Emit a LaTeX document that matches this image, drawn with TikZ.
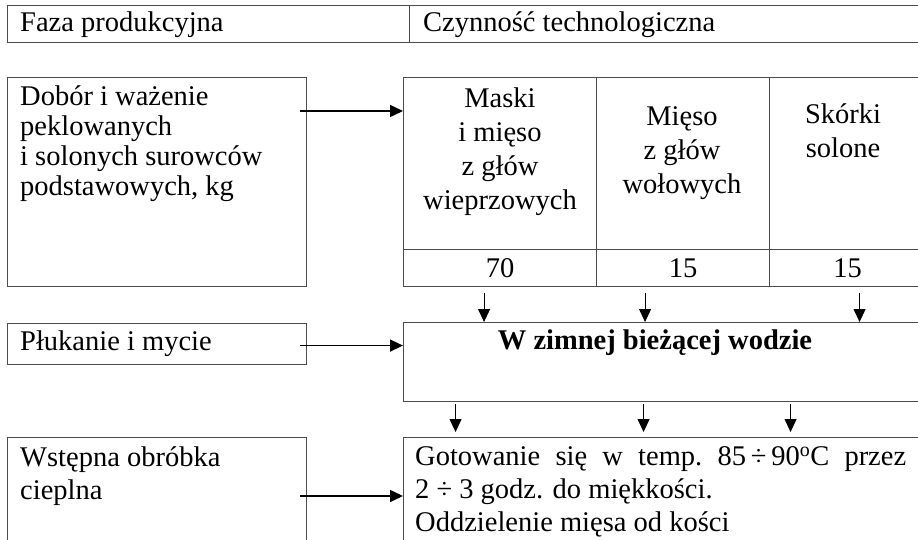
\documentclass[tikz,border=0pt]{standalone}
\usepackage{fontspec}
\setmainfont{Liberation Serif}
\usetikzlibrary{arrows.meta,positioning,calc}

\begin{document}
\begin{tikzpicture}[
    x=1pt, y=-1pt,
    box/.style={draw=black!70, line width=1.1pt, inner sep=0pt, anchor=north west, font=\fontsize{28.5}{30}\selectfont},
    txt/.style={inner sep=0pt, font=\fontsize{28.5}{30}\selectfont, align=left},
    cell/.style={inner sep=0pt, font=\fontsize{28.5}{34}\selectfont, align=center, anchor=north},
    conn/.style={-{Triangle[length=13pt,width=12pt]}, line width=1pt, draw=black},
    hconn/.style={conn, line width=1.6pt}
]
\useasboundingbox (0,0) rectangle (918,540);
\clip (0,0) rectangle (918,540);

% Header row
\node[box, minimum width=402pt, minimum height=37pt] (hfaza) at (7,5) {};
\node[box, minimum width=516pt, minimum height=37pt] (hczyn) at (409,5) {};
\node[txt, anchor=west] (hfaza-t) at (20,25) {Faza produkcyjna};
\node[txt, anchor=west] (hczyn-t) at (423,25) {Czynność technologiczna};

% Left column (production phases)
\node[box, minimum width=299pt, minimum height=209pt] (dobor) at (7,77) {};
\node[txt, anchor=north west] (dobor-t) at (20,85) {Dobór i ważenie\\peklowanych\\i solonych surowców\\podstawowych, kg};
\node[box, minimum width=299pt, minimum height=41pt] (plukanie) at (7,323) {};
\node[txt, anchor=west] (plukanie-t) at (20,344) {Płukanie i mycie};
\node[box, minimum width=299pt, minimum height=123pt] (wstepna) at (7,437) {};
\node[txt, anchor=north west, font=\fontsize{28.5}{33}\selectfont] (wstepna-t) at (20,446) {Wstępna obróbka\\cieplna};

% Raw material table
\node[box, minimum width=193pt, minimum height=172pt] (m1) at (403,77) {};
\node[box, minimum width=173pt, minimum height=172pt] (m2) at (596,77) {};
\node[box, minimum width=156pt, minimum height=172pt] (m3) at (769,77) {};
\node[cell] (m1-t) at (500,88)  {Maski\\i mięso\\z głów\\wieprzowych};
\node[cell] (m2-t) at (682,106) {Mięso\\z głów\\wołowych};
\node[cell] (m3-t) at (843,103) {Skórki\\solone};
\node[box, minimum width=193pt, minimum height=37pt] (n1) at (403,249) {70};
\node[box, minimum width=173pt, minimum height=37pt] (n2) at (596,249) {15};
\node[box, minimum width=156pt, minimum height=37pt] (n3) at (769,249) {15};

% Operations
\node[box, minimum width=522pt, minimum height=79pt] (woda) at (403,322) {};
\node[txt, font=\fontsize{28.5}{30}\selectfont\bfseries] (woda-t) at (655,343) {W zimnej bieżącej wodzie};
\node[box, minimum width=522pt, minimum height=123pt] (gotowanie) at (403,437) {};
\node[txt, anchor=north west, font=\fontsize{28.5}{33}\selectfont] (gotowanie-t) at (415,446) {\hbox to 491pt{Gotowanie\hfill się\hfill w\hfill temp.\hfill 85\,÷\,90\textsuperscript{o}C\hfill przez}\\2 ÷ 3 godz. do miękkości.\\Oddzielenie mięsa od kości};

% Horizontal arrows
\draw[hconn] ([xshift=-7pt,yshift=-34pt]dobor.north east) -- ([yshift=-34pt]m1.north west);
\draw[hconn] ([xshift=-7pt,yshift=-1.5pt]plukanie.east) -- ([yshift=-1.5pt]plukanie.east -| woda.west);
\draw[hconn] ([xshift=-7pt,yshift=-59pt]wstepna.north east) -- ([yshift=-59pt]gotowanie.north west);

% Down arrows
\draw[conn, shorten <=6pt] ([xshift=-16pt]n1.south) -- ([xshift=-16pt]n1.south |- woda.north);
\draw[conn, shorten <=6pt] ([xshift=-38pt]n2.south) -- ([xshift=-38pt]n2.south |- woda.north);
\draw[conn, shorten <=6pt] ([xshift=12pt]n3.south) -- ([xshift=12pt]n3.south |- woda.north);
\draw[conn, shorten <=2pt, shorten >=5pt] ([xshift=-209pt]woda.south) -- ([xshift=-209pt]woda.south |- gotowanie.north);
\draw[conn, shorten <=2pt, shorten >=5pt] ([xshift=-21pt]woda.south) -- ([xshift=-21pt]woda.south |- gotowanie.north);
\draw[conn, shorten <=2pt, shorten >=5pt] ([xshift=126pt]woda.south) -- ([xshift=126pt]woda.south |- gotowanie.north);
\end{tikzpicture}
\end{document}
